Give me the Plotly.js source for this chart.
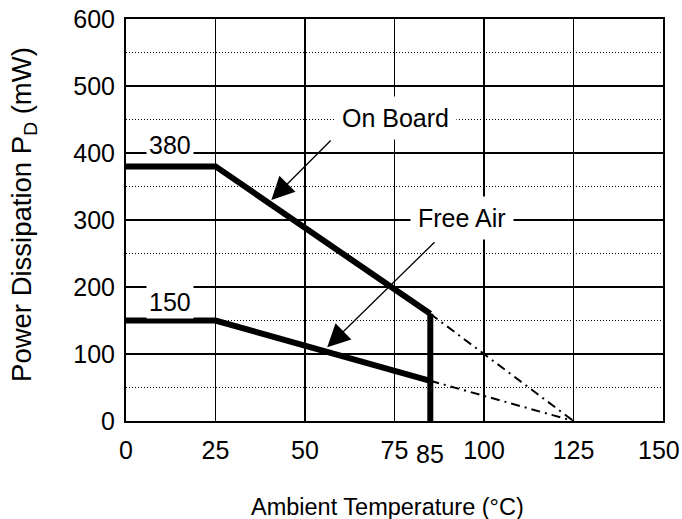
<!DOCTYPE html>
<html>
<head>
<meta charset="utf-8">
<script src="https://cdn.plot.ly/plotly-3.0.1.min.js"></script>
<style>html,body{margin:0;padding:0;background:#fff;}#chart{width:682px;height:519px;}</style>
</head>
<body>
<div id="chart"></div>
<script>
// Data
const onBoardTemp = [0, 25, 85];
const onBoardPower = [380, 380, 160];
const freeAirTemp = [0, 25, 85];
const freeAirPower = [150, 150, 60];
const onBoardDeratedTemp = [85, 125];
const onBoardDeratedPower = [160, 0];
const freeAirDeratedTemp = [85, 125];
const freeAirDeratedPower = [60, 0];
const limitTemp = [85, 85];
const limitPower = [0, 160];
const xTickVals = [0, 25, 50, 75, 100, 125, 150];
const xTickText = ['0', '25', '50', '75', '100', '125', ''];
const extraTicks = [{value: 85, label: '85', yshift: -17, xshift: 0}, {value: 150, label: '150', yshift: -13, xshift: -4}];
const levelLabels = [{x: 12.3, y: 412, text: '380'}, {x: 12.3, y: 178, text: '150'}];
const seriesLabels = [
  {text: 'On Board', x: 75.2, y: 452, tailX: 57.6, tailY: 421, headX: 40.6, headY: 330},
  {text: 'Free Air', x: 93.9, y: 303, tailX: 86.6, tailY: 269, headX: 56.2, headY: 110}
];

const FONT = 'Liberation Sans, Arial, sans-serif';
const FS = 25;
const thick = {color: '#000', width: 6};
const dashdot = {color: '#000', width: 2, dash: '9px,5px,2px,5px'};

const traces = [
  {x: onBoardDeratedTemp, y: onBoardDeratedPower, mode: 'lines', line: dashdot},
  {x: freeAirDeratedTemp, y: freeAirDeratedPower, mode: 'lines', line: dashdot},
  {x: onBoardTemp, y: onBoardPower, mode: 'lines', line: thick},
  {x: freeAirTemp, y: freeAirPower, mode: 'lines', line: thick},
  {x: limitTemp, y: limitPower, mode: 'lines', line: {color: '#000', width: 6}}
];

const annotations = [];
levelLabels.forEach(l => annotations.push({
  x: l.x, y: l.y, xref: 'x', yref: 'y', text: l.text, showarrow: false,
  font: {family: FONT, size: FS, color: '#000'}, bgcolor: '#fff', borderpad: 2
}));
seriesLabels.forEach(s => {
  annotations.push({
    x: s.headX, y: s.headY, ax: s.tailX, ay: s.tailY, axref: 'x', ayref: 'y',
    xref: 'x', yref: 'y', text: '', showarrow: true, arrowhead: 2, arrowsize: 3.5,
    arrowwidth: 1.3, arrowcolor: '#000', standoff: 0
  });
  annotations.push({
    x: s.x, y: s.y, xref: 'x', yref: 'y', text: s.text, showarrow: false,
    font: {family: FONT, size: FS, color: '#000'}, bgcolor: '#fff', borderpad: 7
  });
});
extraTicks.forEach(t => annotations.push({
  x: t.value, y: 0, xref: 'x', yref: 'paper', xanchor: 'center', yanchor: 'top',
  yshift: t.yshift, xshift: t.xshift,
  text: t.label, showarrow: false, font: {family: FONT, size: FS, color: '#000'}
}));
annotations.push({
  x: 0.487, y: -0.215, xref: 'paper', yref: 'paper', xanchor: 'center', yanchor: 'middle',
  text: 'Ambient Temperature (°C)', showarrow: false,
  font: {family: FONT, size: 23.5, color: '#000'}
});
annotations.push({
  x: -0.19, y: 0.515, xref: 'paper', yref: 'paper', xanchor: 'center', yanchor: 'middle',
  textangle: -90,
  text: 'Power Dissipation P<sub>D</sub> (mW)', showarrow: false,
  font: {family: FONT, size: 27.5, color: '#000'}
});

const layout = {
  width: 682, height: 519,
  margin: {l: 126, r: 19, t: 19, b: 98},
  paper_bgcolor: '#fff', plot_bgcolor: '#fff',
  showlegend: false,
  font: {family: FONT, size: FS, color: '#000'},
  xaxis: {
    range: [0, 150], tickvals: xTickVals, ticktext: xTickText,
    showgrid: true, gridcolor: '#000', gridwidth: 1.5,
    showline: true, mirror: true, linecolor: '#000', linewidth: 2,
    ticks: '', zeroline: false, fixedrange: true, ticklabeloverflow: 'allow',
    ticklabelstandoff: 6,
    tickfont: {family: FONT, size: FS, color: '#000'}
  },
  yaxis: {
    range: [0, 600], dtick: 100, tick0: 0,
    showgrid: true, gridcolor: '#000', gridwidth: 1.5,
    minor: {dtick: 50, tick0: 0, showgrid: true, gridcolor: '#000', gridwidth: 1, griddash: '1px,2px', ticks: ''},
    showline: true, mirror: true, linecolor: '#000', linewidth: 2,
    ticks: '', zeroline: false, fixedrange: true, ticklabeloverflow: 'allow',
    ticklabelstandoff: 4,
    tickfont: {family: FONT, size: FS, color: '#000'}
  },
  annotations: annotations
};

Plotly.newPlot('chart', traces, layout, {staticPlot: true, displayModeBar: false});
</script>
</body>
</html>
